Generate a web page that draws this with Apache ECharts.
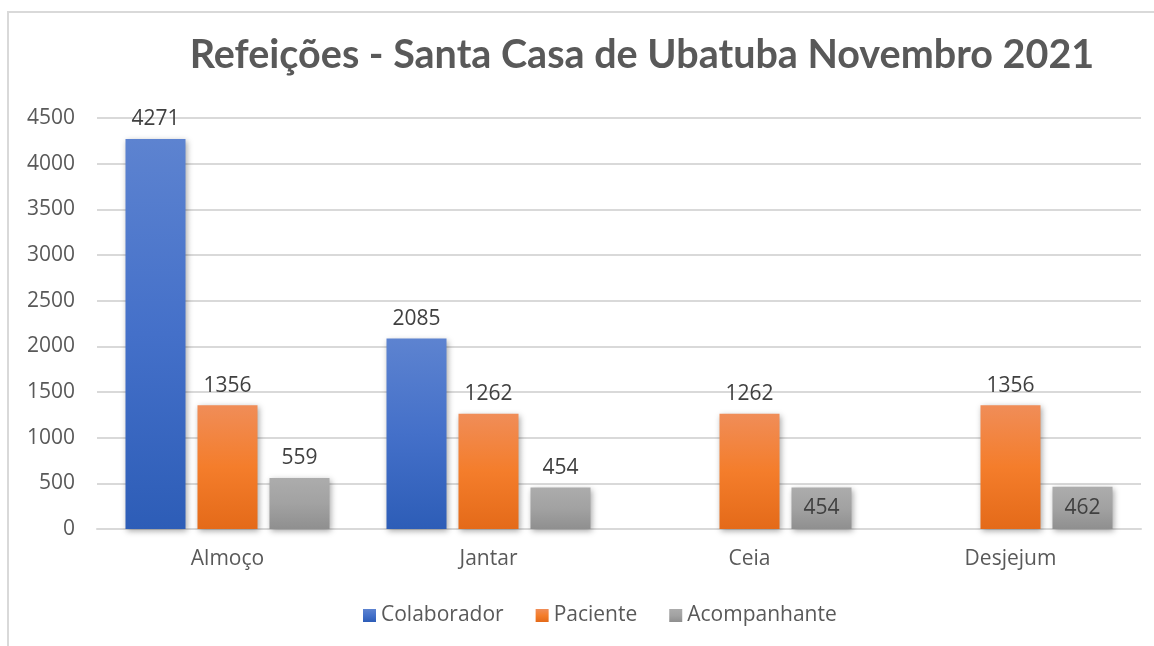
<!DOCTYPE html>
<html>
<head>
<meta charset="utf-8">
<script src="https://cdn.jsdelivr.net/npm/echarts@6/dist/echarts.min.js"></script>
<style>
html, body { margin: 0; padding: 0; background: #fff; }
#chart { width: 1154px; height: 646px; }
</style>
</head>
<body>
<div id="chart"></div>
<script>
// dados
var categorias = ['Almoço', 'Jantar', 'Ceia', 'Desjejum'];
var colaborador = [4271, 2085, '-', '-'];
var paciente = [1356, 1262, 1262, 1356];
var acompanhante = [559, 454, 454, 462];
var yTicks = [0, 500, 1000, 1500, 2000, 2500, 3000, 3500, 4000, 4500];

var fonte = '"Open Sans", sans-serif';

function grad(c1, c2, c3) {
    return new echarts.graphic.LinearGradient(0, 0, 0, 1, [
        { offset: 0, color: c1 },
        { offset: 0.5, color: c2 },
        { offset: 1, color: c3 }
    ]);
}

var sombra = {
    shadowBlur: 6,
    shadowColor: 'rgba(0,0,0,0.35)',
    shadowOffsetX: 1,
    shadowOffsetY: 2
};

var rotulo = {
    show: true,
    position: 'top',
    distance: 9,
    fontFamily: fonte,
    fontSize: 21,
    color: '#404040'
};

function serie(nome, dados, cor) {
    return {
        name: nome,
        type: 'bar',
        barWidth: 60,
        barGap: '20%',
        data: dados,
        itemStyle: Object.assign({ color: cor }, sombra),
        label: rotulo
    };
}

// acompanhante em Ceia e Desjejum: rótulo dentro da barra (como no original)
var dadosAcomp = acompanhante.map(function (v, i) {
    if (i >= 2) {
        return { value: v, label: { position: 'inside' } };
    }
    return v;
});

var chart = echarts.init(document.getElementById('chart'));
var option = {
    backgroundColor: '#ffffff',
    animation: false,
    title: {
        text: 'Refeições - Santa Casa de Ubatuba Novembro 2021',
        left: 637,
        textAlign: 'center',
        top: 30,
        textStyle: {
            fontFamily: 'Lato, sans-serif',
            fontWeight: 'bold',
            fontSize: 39.5,
            color: '#595959'
        }
    },
    legend: {
        bottom: 15,
        left: 358,
        itemWidth: 13,
        itemHeight: 13,
        itemGap: 32,
        icon: 'rect',
        textStyle: { fontFamily: fonte, fontSize: 21, color: '#595959' },
        data: ['Colaborador', 'Paciente', 'Acompanhante']
    },
    graphic: [{
        type: 'rect',
        shape: { x: 8, y: 12, width: 1200, height: 700 },
        style: { fill: 'none', stroke: '#d9d9d9', lineWidth: 2 },
        silent: true,
        z: -1
    }],
    grid: { left: 97, right: 13, top: 118, bottom: 117 },
    xAxis: {
        type: 'category',
        data: categorias,
        axisTick: { show: false },
        axisLine: { lineStyle: { color: '#d9d9d9', width: 2 } },
        axisLabel: { fontFamily: fonte, fontSize: 21, color: '#595959', margin: 20 }
    },
    yAxis: {
        type: 'value',
        min: yTicks[0],
        max: yTicks[yTicks.length - 1],
        interval: 500,
        axisLine: { show: false },
        axisTick: { show: false },
        axisLabel: {
            fontFamily: fonte, fontSize: 21, color: '#595959', margin: 22,
            formatter: function (v) { return String(v); }
        },
        splitLine: { lineStyle: { color: '#d9d9d9', width: 2 } }
    },
    series: [
        serie('Colaborador', colaborador, grad('#5d83d0', '#4470c9', '#2d5db7')),
        serie('Paciente', paciente, grad('#f08d58', '#f47d2b', '#e46a19')),
        serie('Acompanhante', dadosAcomp, grad('#acacac', '#a2a2a2', '#8f8f8f'))
    ]
};
chart.setOption(option);
</script>
</body>
</html>
